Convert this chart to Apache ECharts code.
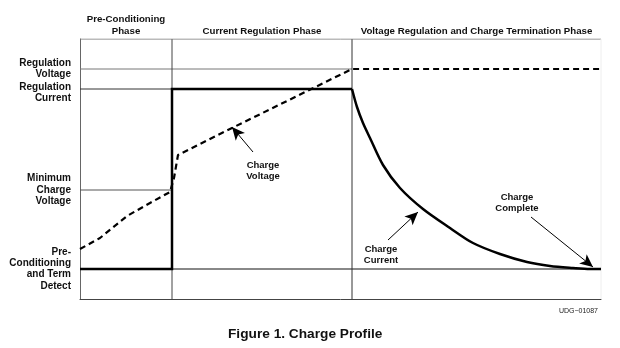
<!DOCTYPE html>
<html><head><meta charset="utf-8">
<script src="https://cdn.jsdelivr.net/npm/echarts@6/dist/echarts.min.js"></script>
<style>html,body{margin:0;padding:0;background:#fff}#c{width:620px;height:348px}</style>
</head><body><div id="c"></div>
<script>
// Phase boundaries along the (arbitrary) time axis and phase names
const phaseBounds = [0, 92, 272, 521];
const phaseNames = ['Pre-Conditioning\nPhase', 'Current Regulation Phase', 'Voltage Regulation and Charge Termination Phase'];

// Reference levels (arbitrary units) and their labels
const levelValues = [230, 210, 109, 30];
const levelLabels = ['Regulation\nVoltage', 'Regulation\nCurrent', 'Minimum\nCharge\nVoltage', 'Pre-\nConditioning\nand Term\nDetect'];

// Charge voltage (dashed)
const voltageX = [0, 20, 47, 70, 90, 91, 94, 98, 152, 272, 521];
const voltageY = [50, 61, 83, 96, 107, 108, 121, 144, 171, 230, 230];

// Charge current (solid): pre-conditioning + constant current part
const currentStepX = [0, 92, 92, 272];
const currentStepY = [30, 30, 210, 210];
// Charge current: taper during voltage regulation
const currentTaperX = [272, 277, 283, 290, 303, 320, 343, 370, 393, 420, 447, 470, 493, 510, 521];
const currentTaperY = [210, 192, 176, 161, 134, 111, 90, 71, 56, 45, 37, 33, 31, 30, 30];

// Annotations: text, text anchor, arrow tail, arrow head
const noteTexts = ['Charge\nVoltage', 'Charge\nCurrent', 'Charge\nComplete'];
const noteAnchors = [[183, 128], [301, 44], [437, 96]];
const arrowTails = [[173, 147], [308, 59], [451, 82]];
const arrowHeads = [[152, 172], [338, 87], [513, 32]];

const XMAX = 521, YMAX = 260;
const FF = 'Liberation Sans, Arial, sans-serif';
const font = {fontFamily: FF, fontWeight: 'bold', color: '#111'};
const levelLabelShift = [-0.5, 4, 0, 0];

function seg(x0, x1, y) { return [[x0, y], [x1, y]]; }
function thin(data, color, width) {
  return {type: 'line', data, symbol: 'none', silent: true, animation: false,
    lineStyle: {color, width}, z: 1};
}
const zip = (xs, ys) => xs.map((x, i) => [x, ys[i]]);
const mids = phaseBounds.slice(0, -1).map((b, i) => (b + phaseBounds[i + 1]) / 2);

const series = [
  thin(seg(0, phaseBounds[2], levelValues[0]), '#777', 1),
  thin(seg(0, phaseBounds[1], levelValues[1]), '#333', 1),
  thin(seg(0, phaseBounds[1], levelValues[2]), '#555', 1),
  thin(seg(phaseBounds[1], XMAX, levelValues[3]), '#888', 2),
  thin([[phaseBounds[1], 0], [phaseBounds[1], YMAX]], '#444', 1),
  thin([[phaseBounds[2], 0], [phaseBounds[2], YMAX]], '#333', 1),
  thin(seg(0, XMAX, YMAX), '#777', 1),
  thin([[XMAX, 0], [XMAX, YMAX]], '#eee', 1),
  {type: 'line', data: zip(voltageX, voltageY), symbol: 'none', animation: false, z: 3,
    lineStyle: {color: '#000', width: 2.2, type: [6, 4]}},
  {type: 'line', data: zip(currentStepX, currentStepY), symbol: 'none', animation: false, z: 4,
    lineStyle: {color: '#000', width: 2.5, join: 'miter'}},
  {type: 'line', data: zip(currentTaperX, currentTaperY), symbol: 'none', animation: false, z: 4,
    smooth: 0.3,
    lineStyle: {color: '#000', width: 2.5, join: 'round'},
    markLine: {silent: true, animation: false, symbol: ['none', 'arrow'], symbolSize: [9, 13],
      lineStyle: {color: '#000', width: 1, type: 'solid'}, label: {show: false},
      data: arrowTails.map((t, i) => [{coord: t}, {coord: arrowHeads[i]}])}},
  {type: 'scatter', data: noteAnchors.map((p, i) => [p[0], p[1], noteTexts[i]]), symbolSize: 0, animation: false,
    itemStyle: {opacity: 1, color: '#000'},
    label: {show: true, position: 'inside', formatter: p => p.data[2], ...font, fontSize: 9.5, lineHeight: 11, align: 'center'}},
  {type: 'scatter', symbolSize: 0, animation: false, itemStyle: {opacity: 1, color: '#000'},
    data: levelValues.map((v, i) => ({value: [0, v, levelLabels[i]],
      label: {offset: [0, levelLabelShift[i]]}})),
    label: {show: true, position: 'left', distance: 9, formatter: p => p.data.value[2],
      ...font, fontSize: 10, lineHeight: 11.3, align: 'right', verticalAlign: 'middle'}}
];

const chart = echarts.init(document.getElementById('c'), null, {renderer: 'canvas'});
chart.setOption({
  animation: false,
  backgroundColor: '#fff',
  title: [
    {text: 'Figure 1. Charge Profile', left: 223, top: 322,
      textStyle: {fontFamily: FF, fontWeight: 'bold', fontSize: 13.7, color: '#111'}},
    {text: 'UDG−01087', right: 17, top: 303,
      textStyle: {fontFamily: FF, fontWeight: 'normal', fontSize: 7, color: '#222'}}
  ],
  grid: {left: 80, top: 39, width: 521, height: 260},
  xAxis: [
    {type: 'value', min: 0, max: XMAX, position: 'bottom',
      axisLine: {show: true, lineStyle: {color: '#444', width: 1}}, axisTick: {show: false},
      axisLabel: {show: false}, splitLine: {show: false}},
    {type: 'value', min: 0, max: XMAX, position: 'top',
      axisLine: {show: false}, axisTick: {show: false}, splitLine: {show: false},
      axisLabel: {show: true, customValues: mids, margin: 2, hideOverlap: false, ...font, fontSize: 9.7, lineHeight: 12, align: 'center',
        formatter: v => phaseNames[mids.findIndex(m => Math.abs(m - v) < 0.01)] || ''}}
  ],
  yAxis: {type: 'value', min: 0, max: YMAX,
    axisLine: {show: true, lineStyle: {color: '#666', width: 1}}, axisTick: {show: false}, splitLine: {show: false},
    axisLabel: {show: false}},
  series
});
</script></body></html>
